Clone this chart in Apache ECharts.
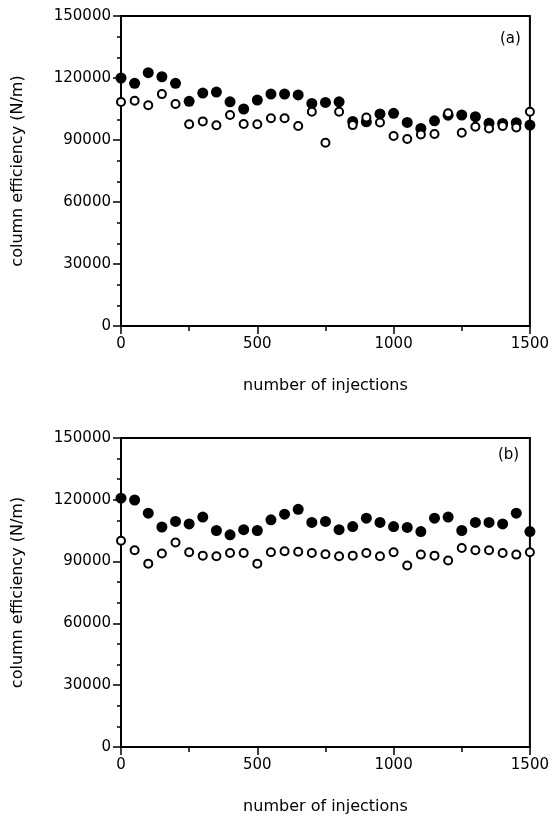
<!DOCTYPE html>
<html>
<head>
<meta charset="UTF-8">
<title>column efficiency</title>
<script src="https://cdn.jsdelivr.net/npm/echarts@6/dist/echarts.min.js"></script>
<style>
    body { margin: 0; background: #fff; }
    #root { width: 552px; height: 816px; }
</style>
</head>
<body>
<div id="root"></div>
<script>
    // number of injections (same for both panels)
    var injections = [0, 50, 100, 150, 200, 250, 300, 350, 400, 450, 500, 550, 600, 650, 700, 750,
        800, 850, 900, 950, 1000, 1050, 1100, 1150, 1200, 1250, 1300, 1350, 1400, 1450, 1500];

    // panel (a), values in N/m
    var aFilled = [120000, 117400, 122600, 120600, 117400, 108700, 112700, 113200, 108500, 105000,
        109300, 112200, 112200, 111800, 107700, 108200, 108500, 99000, 98800, 102600, 102900,
        98500, 95600, 99300, 102000, 102100, 101300, 98100, 98000, 98400, 97200];
    var aOpen = [108400, 109000, 106800, 112200, 107400, 97600, 99000, 97100, 102100, 97700,
        97600, 100500, 100500, 96800, 103700, 88700, 103700, 97200, 100900, 98500, 91900,
        90500, 92700, 92900, 102900, 93500, 96400, 95600, 96800, 96100, 103700];

    // panel (b)
    var bFilled = [120800, 119900, 113500, 106800, 109500, 108300, 111600, 105100, 103000, 105500,
        105100, 110300, 113000, 115400, 109000, 109500, 105500, 107000, 111100, 109000, 107000,
        106600, 104600, 111100, 111600, 105100, 109000, 109000, 108300, 113500, 104600];
    var bOpen = [100100, 95500, 89000, 93900, 99300, 94500, 92900, 92600, 94200, 94200,
        89000, 94500, 95000, 94800, 94200, 93600, 92600, 92900, 94200, 92600, 94500,
        88100, 93400, 92900, 90500, 96600, 95500, 95500, 94200, 93400, 94500];

    var panelLabels = ['(a)', '(b)'];

    function pairs(xs, ys) {
        return xs.map(function (x, i) { return [x, ys[i]]; });
    }

    var font = 'DejaVu Sans';
    var axisText = { color: '#000', fontFamily: font, fontSize: 15, formatter: function (v) { return String(v); } };

    function xAxisOf(idx) {
        return {
            gridIndex: idx, type: 'value', min: 0, max: 1500, interval: 500,
            name: 'number of injections', nameLocation: 'middle', nameGap: 52,
            nameTextStyle: { color: '#000', fontFamily: font, fontSize: 16 },
            axisLine: { lineStyle: { color: '#000', width: 2 } },
            axisTick: { length: 8, lineStyle: { color: '#000', width: 1.5 } },
            minorTick: { show: true, splitNumber: 2, length: 5, lineStyle: { color: '#000', width: 1.5 } },
            axisLabel: Object.assign({ margin: 11 }, axisText),
            splitLine: { show: false }
        };
    }

    function yAxisOf(idx) {
        return {
            gridIndex: idx, type: 'value', min: 0, max: 150000, interval: 30000,
            name: 'column efficiency (N/m)', nameLocation: 'middle', nameGap: 95,
            nameTextStyle: { color: '#000', fontFamily: font, fontSize: 16 },
            axisLine: { lineStyle: { color: '#000', width: 2 } },
            axisTick: { length: 8, lineStyle: { color: '#000', width: 1.5 } },
            minorTick: { show: true, splitNumber: 3, length: 4, lineStyle: { color: '#000', width: 1.5 } },
            axisLabel: Object.assign({ margin: 10 }, axisText),
            splitLine: { show: false }
        };
    }

    function filledSeries(idx, ys) {
        return {
            type: 'scatter', xAxisIndex: idx, yAxisIndex: idx, clip: false,
            symbol: 'circle', symbolSize: 11,
            itemStyle: { color: '#000', opacity: 1 },
            data: pairs(injections, ys)
        };
    }

    function openSeries(idx, ys) {
        return {
            type: 'scatter', xAxisIndex: idx, yAxisIndex: idx, clip: false,
            symbol: 'circle', symbolSize: 8,
            itemStyle: { color: '#fff', borderColor: '#000', borderWidth: 2, opacity: 1 },
            data: pairs(injections, ys)
        };
    }

    var chart = echarts.init(document.getElementById('root'));

    chart.setOption({
        animation: false,
        backgroundColor: '#fff',
        grid: [
            { left: 121, top: 16, width: 412, height: 310, show: true, borderColor: '#000', borderWidth: 2, backgroundColor: 'transparent' },
            { left: 121, top: 438, width: 412, height: 311, show: true, borderColor: '#000', borderWidth: 2, backgroundColor: 'transparent' }
        ],
        xAxis: [xAxisOf(0), xAxisOf(1)],
        yAxis: [yAxisOf(0), yAxisOf(1)],
        series: [
            filledSeries(0, aFilled), openSeries(0, aOpen),
            filledSeries(1, bFilled), openSeries(1, bOpen)
        ],
        graphic: [
            { type: 'text', left: 500, top: 32, style: { text: panelLabels[0], fill: '#000', font: '15px "DejaVu Sans"' } },
            { type: 'text', left: 498, top: 448, style: { text: panelLabels[1], fill: '#000', font: '15px "DejaVu Sans"' } }
        ]
    });
</script>
</body>
</html>
